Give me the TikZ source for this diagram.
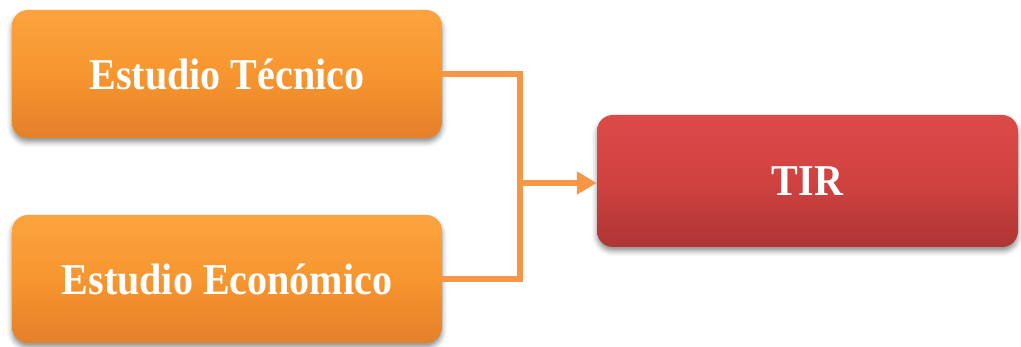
\documentclass[tikz,border=0pt]{standalone}
\usepackage{fontspec}
\usetikzlibrary{arrows.meta,shadows.blur}
\newfontfamily\boxfont{Liberation Serif}[FakeStretch=0.91]
\definecolor{orTop}{HTML}{FCA33F}
\definecolor{orMid}{HTML}{F7962F}
\definecolor{orBot}{HTML}{E4802A}
\definecolor{rdTop}{HTML}{DC4A48}
\definecolor{rdMid}{HTML}{D04240}
\definecolor{rdBot}{HTML}{AE3534}
\definecolor{connC}{HTML}{F79646}
\tikzset{
  basebox/.style={rounded corners=16pt, inner sep=0pt, text=white,
    font=\boxfont\bfseries\fontsize{44}{50}\selectfont,
    blur shadow={shadow xshift=0pt, shadow yshift=-4pt, shadow blur radius=5pt, shadow opacity=45}},
  orbox/.style={basebox, top color=orTop, bottom color=orBot, middle color=orMid,
    minimum width=430pt, minimum height=128pt},
  rdbox/.style={basebox, top color=rdTop, bottom color=rdBot, middle color=rdMid,
    minimum width=421pt, minimum height=132pt},
  conn/.style={draw=connC, line width=6pt},
}
\begin{document}
\begin{tikzpicture}[x=1pt,y=1pt]
\useasboundingbox (0,0) rectangle (1021,347);
\node[orbox] (tec) at (227,273) {Estudio Técnico};
\node[orbox] (eco) at (227,68) {Estudio Económico};
\node[rdbox] (tir) at (807.5,166) {TIR};
\coordinate (j) at (520,164);
\draw[conn] (tec.east) -| (j) |- (eco.east);
\draw[conn, -{Triangle[length=20pt,width=22pt]}] (j) -- (tir.west |- j);
\end{tikzpicture}
\end{document}
